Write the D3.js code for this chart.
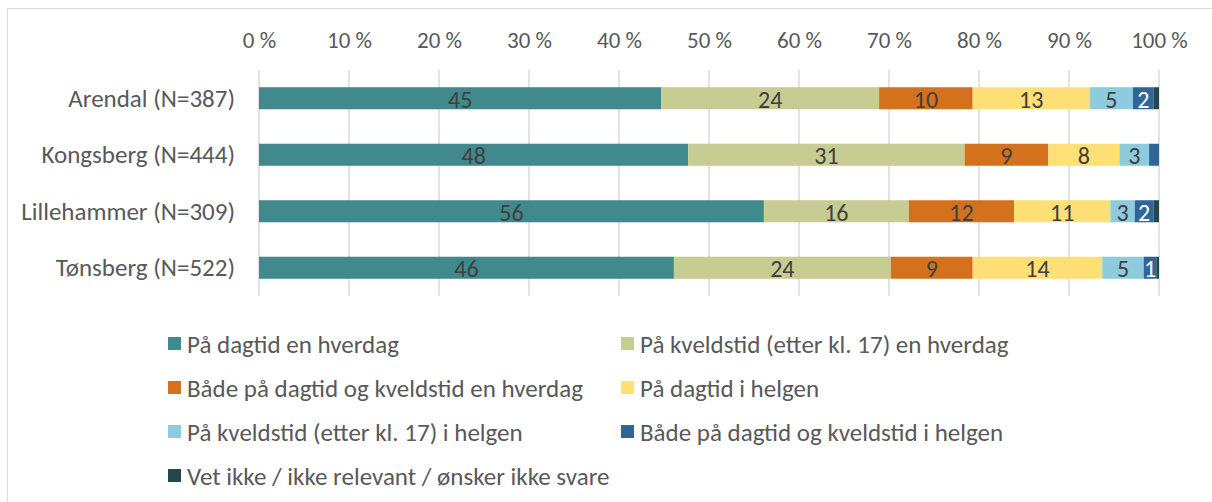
<!DOCTYPE html>
<html>
<head>
<meta charset="utf-8">
<script src="https://cdn.jsdelivr.net/npm/d3@7"></script>
<style>
  body { margin: 0; background: #fff; }
  text { font-family: Carlito, Calibri, Lato, sans-serif; }
</style>
</head>
<body>
<div id="plot"></div>
<script>
// categories (top to bottom)
const places = ["Arendal (N=387)", "Kongsberg (N=444)", "Lillehammer (N=309)", "Tønsberg (N=522)"];

// series, percent per place
const series = [
  "På dagtid en hverdag",
  "På kveldstid (etter kl. 17) en hverdag",
  "Både på dagtid og kveldstid en hverdag",
  "På dagtid i helgen",
  "På kveldstid (etter kl. 17) i helgen",
  "Både på dagtid og kveldstid i helgen",
  "Vet ikke / ikke relevant / ønsker ikke svare"
];
const dagHverdag   = [44.7, 47.7, 56.1, 46.1];
const kveldHverdag = [24.2, 30.7, 16.1, 24.1];
const beggeHverdag = [10.4, 9.3, 11.7, 9.1];
const dagHelg      = [13.0, 7.9, 10.7, 14.4];
const kveldHelg    = [4.8, 3.3, 2.7, 4.6];
const beggeHelg    = [2.3, 1.1, 2.1, 1.4];
const vetIkke      = [0.6, 0.0, 0.6, 0.3];

const ticks = [0, 10, 20, 30, 40, 50, 60, 70, 80, 90, 100];
const colors = ["#40898c", "#c7cc92", "#d4711c", "#ffdf76", "#8dcbdd", "#2f6599", "#22484b"];

const values = [dagHverdag, kveldHverdag, beggeHverdag, dagHelg, kveldHelg, beggeHelg, vetIkke];

// rows for the stack
const rows = places.map((p, i) => {
  const r = { place: p };
  series.forEach((s, j) => r[s] = values[j][i]);
  return r;
});

const W = 1212, H = 502;
const svg = d3.select("#plot").append("svg")
  .attr("width", W)
  .attr("height", H);

// chart frame
svg.append("rect")
  .attr("x", 7.5).attr("y", 8.5)
  .attr("width", W + 10).attr("height", H + 10)
  .attr("fill", "none")
  .attr("stroke", "#d9d9d9");

const xScale = d3.scaleLinear().domain([0, 100]).range([259, 1159]);
const yScale = d3.scaleBand().domain(places).range([70, 296])
  .paddingInner(0.61).paddingOuter(0.305);

// gridlines
svg.append("g")
  .selectAll("line")
  .data(ticks)
  .join("line")
  .attr("x1", d => xScale(d)).attr("x2", d => xScale(d))
  .attr("y1", 70).attr("y2", 296)
  .attr("stroke", "#d9d9d9")
  .attr("stroke-width", 1.5);

// top axis labels
const xAxis = svg.append("g")
  .attr("transform", "translate(0,40)")
  .call(d3.axisTop(xScale).tickValues(ticks).tickFormat(d => d + " %").tickSize(0).tickPadding(0));
xAxis.select(".domain").remove();
xAxis.selectAll("text")
  .attr("dy", null)
  .attr("dominant-baseline", "central")
  .attr("fill", "#595959")
  .style("font-size", "23px");

// category labels
const yAxis = svg.append("g")
  .attr("transform", "translate(235,0)")
  .call(d3.axisLeft(yScale).tickSize(0).tickPadding(0));
yAxis.select(".domain").remove();
yAxis.selectAll("text")
  .attr("dy", null)
  .attr("dominant-baseline", "central")
  .attr("fill", "#595959")
  .style("font-size", "25px");

const stack = d3.stack().keys(series)(rows);

const layer = svg.append("g")
  .selectAll("g")
  .data(stack)
  .join("g")
  .attr("fill", (d, i) => colors[i]);

layer.selectAll("rect")
  .data(d => d)
  .join("rect")
  .attr("x", d => xScale(d[0]))
  .attr("y", d => yScale(d.data.place))
  .attr("width", d => xScale(d[1]) - xScale(d[0]))
  .attr("height", yScale.bandwidth());

// value labels
layer.each(function (s, i) {
  d3.select(this).selectAll("text")
    .data(s.filter(d => d[1] - d[0] >= 1.2))
    .join("text")
    .attr("x", d => xScale((d[0] + d[1]) / 2))
    .attr("y", d => yScale(d.data.place) + yScale.bandwidth() / 2 + 1)
    .attr("text-anchor", "middle")
    .attr("dominant-baseline", "central")
    .attr("fill", i >= 5 ? "#ffffff" : "#404040")
    .style("font-size", "24px")
    .text(d => Math.round(d[1] - d[0]));
});

// legend
const legendX = [168, 621];
const legendY = [344, 388, 432, 476];
const legend = svg.append("g")
  .selectAll("g")
  .data(series)
  .join("g")
  .attr("transform", (d, i) => `translate(${legendX[i % 2]},${legendY[Math.floor(i / 2)]})`);

legend.append("rect")
  .attr("x", 0).attr("y", -7)
  .attr("width", 13).attr("height", 13)
  .attr("fill", (d, i) => colors[i]);

legend.append("text")
  .attr("x", 19).attr("y", 0)
  .attr("dominant-baseline", "central")
  .attr("fill", "#595959")
  .style("font-size", "25px")
  .text(d => d);
</script>
</body>
</html>
